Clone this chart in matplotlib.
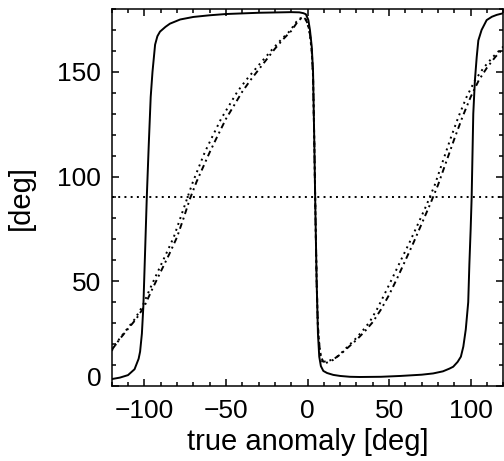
import numpy as np
import matplotlib
matplotlib.use('Agg')
import matplotlib.pyplot as plt
from matplotlib.ticker import MultipleLocator

plt.rcParams['font.family'] = ['Liberation Sans', 'DejaVu Sans']

# solid curve
sx = [-120, -115, -110, -106, -103.5, -102.6, -101.5, -100.6, -99.5, -98.5, -97.3, -96.1, -95, -93.4, -92,
      -90.4, -87, -84.3, -78, -70, -60, -50, -30, -10, -5, -2.5, -1, 0.5, 1.5, 2.6, 3.4, 4.2, 4.8, 5.6, 6.4,
      7.2, 8.2, 9.7, 12, 15.8, 20, 26, 32, 45, 57, 70, 77, 83, 87, 89.3, 92, 94, 95.5, 97, 98.5, 99.2, 100,
      100.6, 101.6, 102.6, 103.7, 104.7, 106.7, 109.8, 113, 116, 120]
sy = [3.3, 4.0, 5.2, 8, 13, 16.4, 25, 38, 65, 90, 115, 138, 150, 163, 167,
      169.2, 171.5, 173, 175, 176.2, 177, 177.6, 178.2, 178.5, 178.4, 178, 177.5, 174.8, 170, 162, 150, 115, 85, 50, 25,
      14, 9.5, 7.2, 6.2, 5.3, 4.8, 4.4, 4.3, 4.4, 4.8, 5.4, 6.0, 7.0, 8.3, 9.2, 11.5, 14, 18.8, 27, 40, 58, 75,
      90, 130, 146, 157, 165, 170, 174.7, 176.3, 177.2, 178]

# dash-dot curve
bx = [-120, -115, -110, -105, -100, -95, -90, -85, -80, -76, -72, -68, -64, -60, -56, -50, -45, -40, -35,
      -30, -25, -20, -15, -10, -6, -4,
      -2.5, -1, 0.5, 1.5, 2.6, 3.4, 4.2, 4.8, 5.6, 6.4, 7.5, 8.5, 9.7,
      12, 16, 20, 25, 30, 35, 40, 45, 50, 55, 60, 65, 70, 75, 80, 85, 90, 95, 100, 105, 110, 115, 120]
by = [17.2, 22.5, 27.3, 32, 38, 46.5, 54.5, 62.5, 71, 80, 89.5, 97.5, 104.5, 111.5, 118, 127.5, 134, 140.5, 146,
      151, 156, 161, 165.5, 169.5, 174, 175.5,
      176, 175, 172, 168, 160, 148, 115, 85, 50, 28, 17.5, 13.5, 11.6,
      11.8, 12.8, 15, 18.5, 22, 26, 30.5, 36.5, 43.5, 51.5, 60, 68.5, 77.5, 86.5, 96, 107, 118, 128.5, 138, 146,
      152, 157, 161.3]

# dotted curve
cx = [-120, -115.3, -110.5, -105.8, -101.2, -96.5, -91.8, -87, -82, -78, -73.8, -70.2, -66.6, -63, -59, -53,
      -48, -43, -37.7, -32.3, -26.8, -21.3, -16, -10.8, -6.7, -4.5,
      -3, -1.2, 0.3, 1.4, 2.6, 3.4, 4.2, 4.8, 5.6, 6.4, 7.5, 8.5, 9.7,
      12, 15.8, 19.5, 24.2, 28.8, 33.4, 38, 42.5, 47, 52, 57.2, 62.5, 67.8, 73, 78, 82.8, 87.6, 92.5, 97.5,
      102.7, 108, 113.5, 119, 120]
cy = [16.8, 22.5, 27.3, 32, 38, 46.5, 54.5, 62.5, 71, 80, 89.5, 97.5, 104.5, 111.5, 118, 127.5,
      134, 140.5, 146, 151, 156, 161, 165.5, 169.5, 174, 175.5,
      176, 175, 172, 168, 160, 148, 115, 85, 50, 28, 17, 12.5, 10.8,
      11.2, 12.5, 14.8, 18.5, 22, 26, 30.5, 36.5, 43.5, 51.5, 60, 68.5, 77.5, 86.5, 96, 107, 118, 128.5, 138,
      146, 152, 157, 161.3, 162]

ref_level = 90
xticks = [-100, -50, 0, 50, 100]
yticks = [0, 50, 100, 150]

fig = plt.figure(figsize=(5.04, 4.61), dpi=100)
ax = fig.add_axes([111.7/504, 1 - 386/461, 391.6/504, 377/461])

ax.plot(sx, sy, color='k', lw=1.4, ls='-')
ax.plot(bx, by, color='k', lw=1.4, ls=(0, (3, 2, 1, 2)))
ax.plot(cx, cy, color='k', lw=1.4, ls=(0, (1, 2.2)))
ax.axhline(ref_level, color='k', lw=1.4, ls=(0, (1, 2.2)))

ax.set_xlim(-120, 120)
ax.set_ylim(0, 180)
ax.set_xticks(xticks)
ax.set_yticks(yticks)
ax.xaxis.set_minor_locator(MultipleLocator(10))
ax.yaxis.set_minor_locator(MultipleLocator(10))
ax.tick_params(which='both', direction='in', top=True, right=True, width=1.1, labelsize=19)
ax.tick_params(which='major', length=5)
ax.tick_params(which='minor', length=3)
ax.tick_params(axis='x', pad=9)
ax.tick_params(axis='y', pad=7.5)
for sp in ax.spines.values():
    sp.set_linewidth(1.1)

# IDL-style raised zero label
ax.yaxis.get_major_ticks()[0].label1.set_verticalalignment('baseline')

ax.set_xlabel('true anomaly [deg]', fontsize=21, labelpad=4)
ax.set_ylabel('[deg]', fontsize=21, labelpad=16)

fig.savefig('out.png', dpi=100)
